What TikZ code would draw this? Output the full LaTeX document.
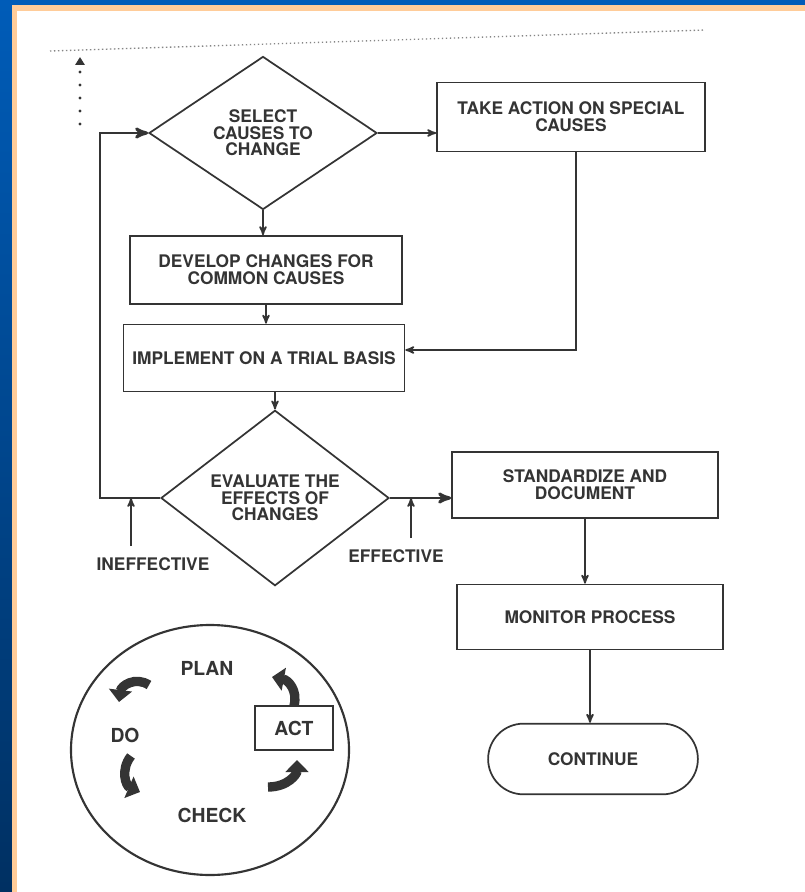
\documentclass[tikz,border=0pt]{standalone}
\usepackage{fontspec}
\setmainfont{TeX Gyre Heros}
\usetikzlibrary{arrows,arrows.meta,shapes.geometric,shapes.misc}
\definecolor{slideblue}{RGB}{0,92,184}
\definecolor{slidedark}{RGB}{0,48,98}
\definecolor{peach}{RGB}{255,204,153}
\definecolor{ink}{RGB}{52,52,52}
\begin{document}
\begin{tikzpicture}
        [x=0.75pt,y=-0.75pt,
        every node/.style={font=\fontsize{13}{12.5}\selectfont\bfseries,text=ink,align=center},
        box/.style={rectangle,draw=ink,line width=1.3pt,inner sep=2pt},
        decision/.style={diamond,draw=ink,line width=1.3pt,inner sep=0pt,minimum width=171pt,minimum height=114.75pt},
        term/.style={rounded rectangle,draw=ink,line width=1.3pt,minimum width=164pt,minimum height=53pt},
        lbl/.style={inner sep=0pt},
        big/.style={font=\fontsize{14.5}{14}\selectfont\bfseries},
        arr/.style={->,>=stealth',line width=1.3pt,draw=ink},
        back/.style={->,>=stealth',line width=2.2pt,draw=ink},
        cyc/.style={line width=7pt,draw=ink,-{Triangle[length=9pt,width=17pt]}}]
        \useasboundingbox (0,0) rectangle (805,892);
        \fill[slideblue] (0,0) rectangle (805,5);
        \shade[top color=slideblue,bottom color=slidedark] (0,0) rectangle (12,892);
        \fill[peach] (12,5) rectangle (805,892);
        \fill[white] (17,11) rectangle (805,892);
        \draw[ink!60,line width=1pt,dotted] (50,51) -- (705,30);
        \coordinate (d0) at (80,124);
        \coordinate (d1) at (80,57);
        \draw[ink,line width=2.4pt,line cap=round,dash pattern=on 0pt off 9.75pt,-{Triangle[length=6pt,width=7pt]}] (d0) -- (d1);
        \node (sel) at (263,133) [decision] {SELECT\\CAUSES TO\\CHANGE};
        \node (spec) at (571,117) [box,minimum width=201pt,minimum height=51.75pt] {TAKE ACTION ON SPECIAL\\CAUSES};
        \node (dev) at (266,270) [box,minimum width=204pt,minimum height=51pt] {DEVELOP CHANGES FOR\\COMMON CAUSES};
        \node (impl) at (264,358) [box,minimum width=210.75pt,minimum height=50.25pt] {IMPLEMENT ON A TRIAL BASIS};
        \node (eval) at (275,498) [decision] {EVALUATE THE\\EFFECTS OF\\CHANGES};
        \node (std) at (585,485) [box,minimum width=199.5pt,minimum height=49.5pt] {STANDARDIZE AND\\DOCUMENT};
        \node (mon) at (590,617) [box,minimum width=199.5pt,minimum height=48.75pt] {MONITOR PROCESS};
        \node (cont) at (593,759) [term] {CONTINUE};
        \node (ineff) at (153,564) [lbl] {INEFFECTIVE};
        \node (eff) at (396,556) [lbl] {EFFECTIVE};
        \coordinate (lp) at (100,498);
        \coordinate (ia) at (131,546);
        \coordinate (ea) at (411,538);
        \draw[arr] (sel.south) -- (sel.south |- dev.north);
        \draw[arr] (sel.east) -- (sel.east -| spec.west);
        \draw[arr] ([xshift=4pt]spec.south) |- ([yshift=6pt]impl.east);
        \draw[arr] (dev.south) -- (dev.south |- impl.north);
        \draw[arr] (eval.north |- impl.south) -- (eval.north);
        \draw[back] (eval.west) -- (lp) |- (sel.west);
        \draw[back] (eval.east) -- (eval.east -| std.west);
        \draw[arr] (ia) -- (ia |- eval.west);
        \draw[arr] (ea) -- (ea |- eval.east);
        \draw[arr] (std.south) -- (std.south |- mon.north);
        \draw[arr] (mon.south) -- (mon.south |- cont.north);
        \draw[ink,line width=1.6pt] (210,750) ellipse [x radius=139,y radius=125];
        \node (plan) at (207,668) [lbl,big] {PLAN};
        \node (do) at (125,735) [lbl,big] {DO};
        \node (check) at (212,815) [lbl,big] {CHECK};
        \node (act) at (294,728) [box,big,minimum width=58.5pt,minimum height=33pt] {ACT};
        \draw[cyc] (149,685) .. controls (135,676) and (121,686) .. (119,702);
        \draw[cyc] (131,756) .. controls (120,770) and (126,786) .. (140,792);
        \draw[cyc] (294,706) .. controls (298,690) and (288,680) .. (272,677);
        \draw[cyc] (268,787) .. controls (288,787) and (297,774) .. (297,760);
     \end{tikzpicture}
\end{document}
